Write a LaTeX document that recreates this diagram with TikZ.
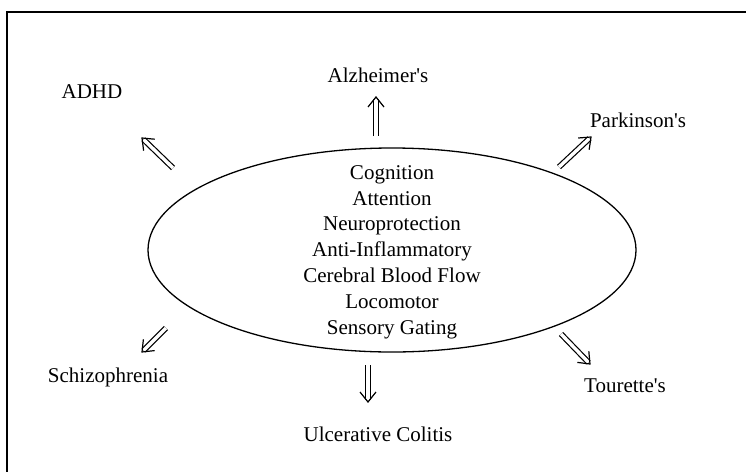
\documentclass[tikz,border=0pt]{standalone}
\usepackage{fontspec}
\setmainfont{Liberation Serif}[Ligatures=TeXOff]
\usetikzlibrary{calc}
\newcommand\dblarr[2]{%
  \draw[shaft] (#1) -- (#2);
  \draw[headst] ($(#2)!10pt!(#1)!8pt!90:(#1)$) -- (#2) -- ($(#2)!10pt!(#1)!8pt!-90:(#1)$);}
\begin{document}
\begin{tikzpicture}[x=1pt,y=-1pt,
  lbl/.style={font=\fontsize{21}{25}\selectfont, inner sep=0pt},
  shaft/.style={draw, line width=1.2pt, double distance=3.4pt, shorten >=2.2pt},
  headst/.style={draw, line width=1.2pt, line join=miter},
]
\useasboundingbox (0,0) rectangle (746,471);
\draw[line width=1.6pt] (760,12) -- (7,12) -- (7,480);
\coordinate (ec) at (392,250);
\draw[line width=1.3pt] (ec) ellipse [x radius=244, y radius=102];
\node[align=center, inner sep=0pt, font=\fontsize{21}{25.8}\selectfont] (txt) at (392,252)
  {Cognition\\Attention\\Neuroprotection\\Anti-Inflammatory\\Cerebral Blood Flow\\Locomotor\\Sensory Gating};
\node[lbl] (alz) at (378,75) {Alzheimer's};
\node[lbl] (adhd) at (92,92) {ADHD};
\node[lbl] (park) at (638,120) {Parkinson's};
\node[lbl] (schiz) at (108,377) {Schizophrenia};
\node[lbl] (uc) at (378,434) {Ulcerative Colitis};
\node[lbl] (tour) at (625,386) {Tourette's};
\coordinate (a1) at (376,136); \coordinate (a2) at (376,97);
\coordinate (b1) at (173,168); \coordinate (b2) at (142,138);
\coordinate (c1) at (559,167); \coordinate (c2) at (591,137);
\coordinate (d1) at (166,328); \coordinate (d2) at (142,352);
\coordinate (e1) at (368,365); \coordinate (e2) at (368,402);
\coordinate (f1) at (561,334); \coordinate (f2) at (590,364);
\dblarr{a1}{a2}
\dblarr{b1}{b2}
\dblarr{c1}{c2}
\dblarr{d1}{d2}
\dblarr{e1}{e2}
\dblarr{f1}{f2}
\end{tikzpicture}
\end{document}
